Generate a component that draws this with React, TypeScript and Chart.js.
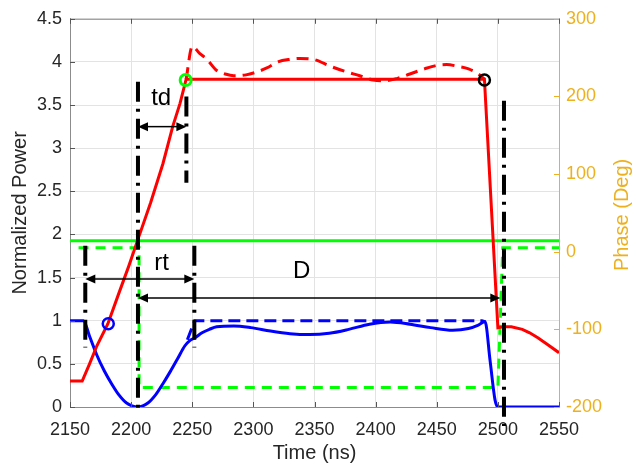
import React, { useEffect, useRef } from 'react';
import { Chart, registerables } from 'chart.js';

Chart.register(...registerables);

const FONT = "'Liberation Sans', Arial, Helvetica, sans-serif";
const ORANGE = '#EDB120';
const TEXT = '#262626';

// Time axis (ns)
const xMin = 2150;
const xMax = 2550;
const xStep = 50;
// Left axis: normalized power
const yMin = 0;
const yMax = 4.5;
const yStep = 0.5;
// Right axis: phase (deg)
const phaseMin = -200;
const phaseMax = 300;
const phaseStep = 100;

// Red solid curve
const redX = [2150, 2160, 2166, 2172, 2181, 2190, 2198, 2205, 2216, 2226, 2234, 2240, 2245, 2489, 2500, 2504, 2511, 2520, 2526, 2533, 2540, 2550];
const redY = [0.30, 0.30, 0.50, 0.71, 0.965, 1.32, 1.63, 1.92, 2.37, 2.82, 3.25, 3.52, 3.80, 3.80, 0.92, 0.93, 0.93, 0.90, 0.86, 0.80, 0.73, 0.63];

// Red dashed curve
const redDashX = [2245, 2250, 2256, 2262, 2270, 2277, 2284, 2294, 2302, 2311, 2320, 2330, 2338, 2349, 2363, 2375, 2387, 2398, 2407, 2418, 2428, 2440, 2450, 2458, 2467, 2476, 2484, 2489];
const redDashY = [3.80, 4.18, 4.10, 4.03, 3.90, 3.86, 3.84, 3.85, 3.88, 3.93, 4.00, 4.03, 4.04, 4.03, 3.95, 3.89, 3.84, 3.79, 3.78, 3.81, 3.86, 3.92, 3.96, 3.97, 3.95, 3.92, 3.86, 3.80];

// Blue solid curve
const blueX = [2150, 2161, 2166, 2172, 2178, 2184, 2190, 2196, 2205.5, 2214, 2220, 2226, 2232, 2238, 2244, 2248, 2252, 2258, 2264, 2270, 2284, 2298, 2314, 2330, 2346, 2362, 2378, 2395, 2412, 2428, 2445, 2463, 2476, 2484, 2489.5, 2493.6, 2497.7, 2500, 2550];
const blueY = [1.0, 1.0, 0.82, 0.60, 0.42, 0.27, 0.14, 0.05, 0.0, 0.05, 0.14, 0.27, 0.41, 0.56, 0.71, 0.77, 0.80, 0.86, 0.90, 0.93, 0.94, 0.92, 0.88, 0.85, 0.84, 0.855, 0.90, 0.96, 0.985, 0.96, 0.92, 0.89, 0.91, 0.95, 0.99, 0.54, 0.08, 0.0, 0.0];

// Blue dashed curve
const blueDashX = [2246, 2252, 2487, 2489.5];
const blueDashY = [0.78, 1.0, 1.0, 0.99];

// Green (phase, right axis)
const greenX = [2150, 2550];
const greenY = [14, 14];
const greenDashX = [2157, 2206.5, 2206.5, 2500, 2504, 2550];
const greenDashY = [5, 5, -175, -175, 5, 5];

// Circle markers
const markBlue = { x: 2181.3, y: 0.965 };
const markGreen = { x: 2244.6, y: 3.79 };
const markBlack = { x: 2489, y: 3.79 };

// Vertical dash-dot guide lines
const vLineX = [2162.5, 2205.6, 2245.2, 2251.7, 2505];
const vLineTop = [1.87, 3.77, 3.60, 1.87, 3.55];
const vLineBottom = [0.69, -0.06, 2.60, 0.69, -0.22];

// Double-headed arrows
const arrowY = [3.25, 1.485, 1.263];
const arrowX1 = [2205.6, 2162.5, 2205.6];
const arrowX2 = [2245.2, 2251.7, 2502];

// Annotation labels (baseline position)
const labelText = ['td', 'rt', 'D'];
const labelX = [2224.6, 2225, 2339.5];
const labelY = [3.50, 1.59, 1.50];

const pts = (xs: number[], ys: number[]) => xs.map((x, i) => ({ x, y: ys[i] }));

const overlayPlugin = {
  id: 'overlay',
  afterDraw(chart: any) {
    const { ctx, chartArea: a, scales } = chart;
    const sx = scales.x;
    const sy = scales.y;
    const sp = scales.y1;
    ctx.save();
    // top border
    ctx.strokeStyle = '#8c8c8c';
    ctx.lineWidth = 1;
    ctx.beginPath();
    ctx.moveTo(a.left, a.top + 0.5);
    ctx.lineTo(a.right, a.top + 0.5);
    ctx.stroke();
    // inner ticks
    const tl = 5;
    ctx.strokeStyle = '#555555';
    for (let v = xMin; v <= xMax; v += xStep) {
      const px = Math.round(sx.getPixelForValue(v)) + 0.5;
      ctx.beginPath();
      ctx.moveTo(px, a.bottom);
      ctx.lineTo(px, a.bottom - tl);
      ctx.moveTo(px, a.top);
      ctx.lineTo(px, a.top + tl);
      ctx.stroke();
    }
    for (let v = yMin; v <= yMax + 1e-9; v += yStep) {
      const py = Math.round(sy.getPixelForValue(v)) + 0.5;
      ctx.beginPath();
      ctx.moveTo(a.left, py);
      ctx.lineTo(a.left + tl, py);
      ctx.stroke();
    }
    ctx.strokeStyle = ORANGE;
    for (let v = phaseMin; v <= phaseMax; v += phaseStep) {
      const py = Math.round(sp.getPixelForValue(v)) + 0.5;
      ctx.beginPath();
      ctx.moveTo(a.right, py);
      ctx.lineTo(a.right - tl, py);
      ctx.stroke();
    }
    // arrows
    ctx.strokeStyle = '#000';
    ctx.fillStyle = '#000';
    ctx.lineWidth = 1.5;
    const head = 10;
    const hw = 4.5;
    arrowY.forEach((yv, i) => {
      const py = sy.getPixelForValue(yv);
      const x1 = sx.getPixelForValue(arrowX1[i]);
      const x2 = sx.getPixelForValue(arrowX2[i]);
      ctx.beginPath();
      ctx.moveTo(x1 + head - 1, py);
      ctx.lineTo(x2 - head + 1, py);
      ctx.stroke();
      ctx.beginPath();
      ctx.moveTo(x1, py);
      ctx.lineTo(x1 + head, py - hw);
      ctx.lineTo(x1 + head, py + hw);
      ctx.closePath();
      ctx.fill();
      ctx.beginPath();
      ctx.moveTo(x2, py);
      ctx.lineTo(x2 - head, py - hw);
      ctx.lineTo(x2 - head, py + hw);
      ctx.closePath();
      ctx.fill();
    });
    // labels
    ctx.font = `24px ${FONT}`;
    ctx.textAlign = 'center';
    ctx.textBaseline = 'alphabetic';
    ctx.fillStyle = '#000';
    labelText.forEach((t, i) => {
      ctx.fillText(t, sx.getPixelForValue(labelX[i]), sy.getPixelForValue(labelY[i]));
    });
    // right axis title
    ctx.translate(622, (a.top + a.bottom) / 2 + 2);
    ctx.rotate(-Math.PI / 2);
    ctx.font = `20px ${FONT}`;
    ctx.fillStyle = ORANGE;
    ctx.textBaseline = 'middle';
    ctx.fillText('Phase (Deg)', 0, 0);
    ctx.restore();
  },
};

export default function App() {
  const ref = useRef<HTMLCanvasElement | null>(null);
  useEffect(() => {
    if (!ref.current) return;
    const lineBase = { pointRadius: 0, fill: false, borderWidth: 3, yAxisID: 'y' };
    const vLines = vLineX.map((x, i) => ({
      data: [{ x, y: vLineTop[i] }, { x, y: vLineBottom[i] }],
      borderColor: '#000',
      borderWidth: 4,
      borderDash: [20, 7, 3, 7],
      pointRadius: 0,
      yAxisID: 'y',
      clip: false,
    }));
    const marker = (p: { x: number; y: number }, color: string, w: number) => ({
      data: [p],
      showLine: false,
      pointRadius: 5.5,
      pointBorderWidth: w,
      pointBorderColor: color,
      pointBackgroundColor: 'rgba(0,0,0,0)',
      yAxisID: 'y',
    });
    const chart = new Chart(ref.current, {
      type: 'line',
      data: {
        datasets: [
          marker(markBlue, '#0000FF', 2.5),
          marker(markGreen, '#00FF00', 3),
          marker(markBlack, '#000000', 2.5),
          ...vLines,
          { ...lineBase, data: pts(redX, redY), borderColor: '#FF0000', tension: 0 },
          { ...lineBase, data: pts(redDashX, redDashY), borderColor: '#FF0000', borderDash: [12, 7], cubicInterpolationMode: 'monotone' },
          { ...lineBase, data: pts(blueX, blueY), borderColor: '#0000FF', cubicInterpolationMode: 'monotone' },
          { ...lineBase, data: pts(blueDashX, blueDashY), borderColor: '#0000FF', borderDash: [12, 6] },
          { ...lineBase, data: pts(greenX, greenY), borderColor: '#00FF00', yAxisID: 'y1' },
          { ...lineBase, data: pts(greenDashX, greenDashY), borderColor: '#00FF00', borderDash: [10, 7], yAxisID: 'y1' },
        ] as any,
      },
      options: {
        responsive: false,
        animation: false,
        devicePixelRatio: 1,
        layout: { padding: { top: 14, left: 0, right: 0, bottom: 0 } },
        plugins: { legend: { display: false }, tooltip: { enabled: false } },
        scales: {
          x: {
            type: 'linear',
            min: xMin,
            max: xMax,
            ticks: { stepSize: xStep, color: TEXT, font: { size: 18, family: FONT }, padding: 12, callback: (v: any) => String(v) },
            grid: { color: '#e3e3e3', drawTicks: false },
            border: { color: '#8c8c8c' },
            title: { display: true, text: 'Time (ns)', color: TEXT, font: { size: 20, family: FONT }, padding: { top: 0, bottom: 1 } },
            afterFit: (s: any) => { s.height = 59; },
          },
          y: {
            type: 'linear',
            position: 'left',
            min: yMin,
            max: yMax,
            ticks: { stepSize: yStep, color: TEXT, font: { size: 18, family: FONT }, padding: 8, callback: (v: any) => String(Math.round(v * 10) / 10) },
            grid: { color: '#e3e3e3', drawTicks: false },
            border: { color: '#8c8c8c' },
            title: { display: true, text: 'Normalized Power', color: TEXT, font: { size: 20, family: FONT }, padding: { top: 8, bottom: 0 } },
            afterFit: (s: any) => { s.width = 70; },
          },
          y1: {
            type: 'linear',
            position: 'right',
            min: phaseMin,
            max: phaseMax,
            ticks: { stepSize: phaseStep, color: ORANGE, font: { size: 18, family: FONT }, padding: 7, callback: (v: any) => String(v) },
            grid: { drawOnChartArea: false, drawTicks: false },
            border: { color: ORANGE },
            afterFit: (s: any) => { s.width = 77; },
          },
        },
      } as any,
      plugins: [overlayPlugin],
    });
    return () => chart.destroy();
  }, []);
  return (
    <div style={{ position: 'absolute', left: 0, top: 0, width: 636, height: 466, background: '#fff' }}>
      <canvas ref={ref} width={636} height={466} />
    </div>
  );
}
